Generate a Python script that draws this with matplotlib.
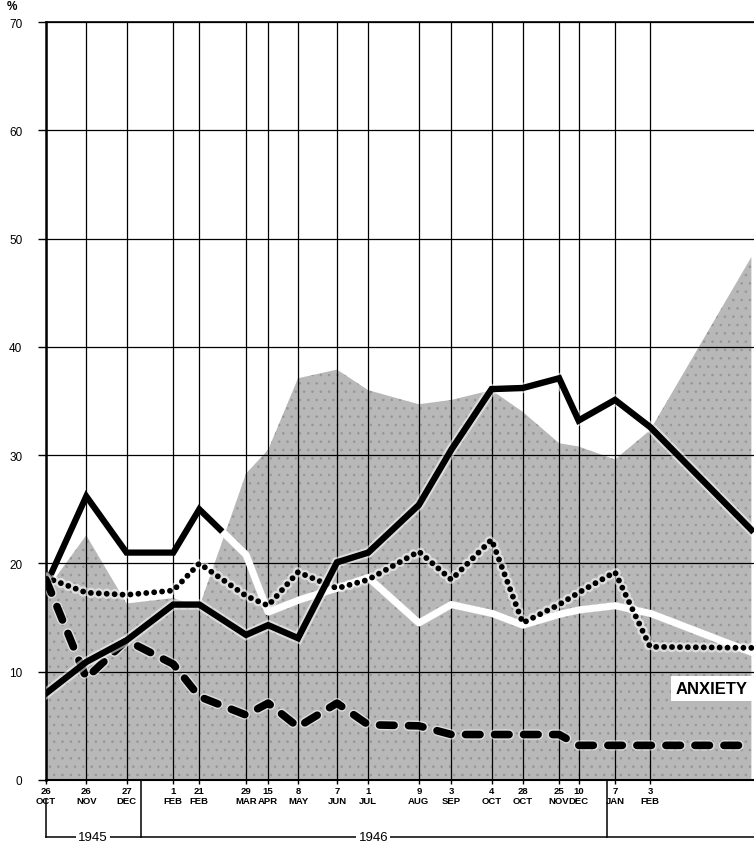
import numpy as np
import matplotlib.pyplot as plt
import matplotlib.dates as mdates
import matplotlib.patheffects as pe

plt.rcParams['font.family'] = ['Liberation Sans', 'DejaVu Sans']
plt.rcParams['hatch.linewidth'] = 0.6

# survey dates (last one is the unlabeled final survey at the right edge)
survey_dates = np.array([
    '1945-10-26', '1945-11-26', '1945-12-27', '1946-02-01', '1946-02-21',
    '1946-03-29', '1946-04-15', '1946-05-08', '1946-06-07', '1946-07-01',
    '1946-08-09', '1946-09-03', '1946-10-04', '1946-10-28', '1946-11-25',
    '1946-12-10', '1947-01-07', '1947-02-03', '1947-04-22'], dtype='datetime64[D]')
tick_days = ['26', '26', '27', '1', '21', '29', '15', '8', '7', '1',
             '9', '3', '4', '28', '25', '10', '7', '3']
tick_months = ['OCT', 'NOV', 'DEC', 'FEB', 'FEB', 'MAR', 'APR', 'MAY', 'JUN', 'JUL',
               'AUG', 'SEP', 'OCT', 'OCT', 'NOV', 'DEC', 'JAN', 'FEB']
years = ['1945', '1946']
year_breaks = np.array(['1946-01-07', '1947-01-01'], dtype='datetime64[D]')

# stippled area
anxiety = [17.5, 22.6, 16.3, 16.8, 16.0, 28.3, 30.5, 37.1, 37.9, 36.0,
           34.7, 35.1, 36.0, 34.0, 31.1, 30.8, 29.6, 32.3, 48.3]
# line printed black on white paper, white on the stippled area
top_line = [18.0, 26.2, 21.0, 21.0, 25.0, 20.8, 15.5, 16.6, 17.7, 18.7,
            14.5, 16.2, 15.4, 14.3, 15.3, 15.7, 16.1, 15.4, 11.8]
solid_line = [8.0, 10.9, 12.9, 16.2, 16.2, 13.4, 14.3, 13.1, 20.1, 21.0,
              25.4, 30.5, 36.1, 36.2, 37.1, 33.2, 35.1, 32.6, 23.1]
dotted_line = [18.7, 17.3, 17.1, 17.5, 20.0, 17.0, 16.1, 19.2, 17.7, 18.5,
               21.1, 18.5, 22.2, 14.5, 16.2, 17.3, 19.2, 12.3, 12.2]
dashed_line = [18.5, 9.4, 12.9, 10.7, 7.7, 6.0, 7.1, 4.9, 7.1, 5.1,
               5.0, 4.2, 4.2, 4.2, 4.2, 3.2, 3.2, 3.2, 3.2]

fig = plt.figure(figsize=(7.54, 8.45), dpi=100)
ax = fig.add_axes([46/754, 64/845, 708/754, 758/845])

ax.fill_between(survey_dates, 0, anxiety, facecolor='#b8b8b8',
                edgecolor='#969696', hatch='..', linewidth=0, zorder=1)

halo = [pe.withStroke(linewidth=7.5, foreground='white', alpha=0.55)]

# top line: black everywhere, white where it runs inside the stippled area
ax.plot(survey_dates, top_line, color='black', lw=4.5, solid_joinstyle='miter', zorder=3)
xnum = mdates.date2num(survey_dates)
xf = np.linspace(xnum[0], xnum[-1], 4000)
top_f = np.interp(xf, xnum, top_line)
area_f = np.interp(xf, xnum, anxiety)
ax.plot(mdates.num2date(xf), np.where(top_f < area_f, top_f, np.nan),
        color='white', lw=5.2, zorder=3.5)

ax.plot(survey_dates, solid_line, color='black', lw=4.6, solid_joinstyle='miter',
        path_effects=halo, zorder=5)
ax.plot(survey_dates, dotted_line, color='black', lw=4.2, linestyle=(0, (0.01, 1.35)),
        dash_capstyle='round', path_effects=halo, zorder=4)
ax.plot(survey_dates, dashed_line, color='black', lw=5.5, linestyle=(0, (1.9, 1.9)),
        dash_capstyle='round', path_effects=halo, zorder=4)

# grid
ax.set_xlim(survey_dates[0], np.datetime64('1947-04-24'))
ax.set_ylim(0, 70)
ax.set_yticks(range(0, 71, 10))
ax.set_xticks(survey_dates[:-1])
ax.set_xticklabels([d + '\n' + m for d, m in zip(tick_days, tick_months)],
                   fontsize=6.8, fontweight='bold', linespacing=1.1)
ax.set_yticklabels([str(v) for v in range(0, 71, 10)], fontsize=8.5)
ax.grid(True, color='black', lw=0.9)
for l in ax.get_xgridlines() + ax.get_ygridlines():
    l.set_zorder(2)
ax.tick_params(axis='y', length=6, width=1, pad=11)
ax.tick_params(axis='x', length=3, width=1, pad=1.5)
ax.spines['right'].set_visible(False)
ax.spines['left'].set_linewidth(1.8)
ax.spines['bottom'].set_linewidth(1.5)
ax.spines['top'].set_linewidth(1.2)

ax.text(-0.048, 1.013, '%', transform=ax.transAxes, fontsize=8.5, fontweight='bold',
        ha='center', va='bottom')

ax.text(0.94, 0.121, 'ANXIETY', transform=ax.transAxes, fontsize=12,
        ha='center', va='center', zorder=6, fontweight='bold',
        bbox=dict(facecolor='white', edgecolor='none', pad=3.5))

# year brackets under the axis
xt = ax.get_xaxis_transform()
y_lo = -0.075
kw = dict(color='black', lw=1.1, transform=xt, clip_on=False)
ax.plot([survey_dates[0], survey_dates[0]], [-0.025, y_lo], **kw)
ax.plot([survey_dates[0], np.datetime64('1947-04-24')], [y_lo, y_lo], **kw)
for b in year_breaks:
    ax.plot([b, b], [0, y_lo], **kw)
starts = [survey_dates[0], year_breaks[0]]
ends = [year_breaks[0], year_breaks[1]]
for yr, s, e in zip(years, starts, ends):
    mid = s + (e - s) // 2
    ax.text(mid, y_lo, yr, transform=xt, fontsize=9.5, ha='center', va='center',
            bbox=dict(facecolor='white', edgecolor='none', pad=1.5))

ax.set_xlim(survey_dates[0], np.datetime64('1947-04-24'))
ax.set_ylim(0, 70)

fig.savefig('out.png', dpi=100)
